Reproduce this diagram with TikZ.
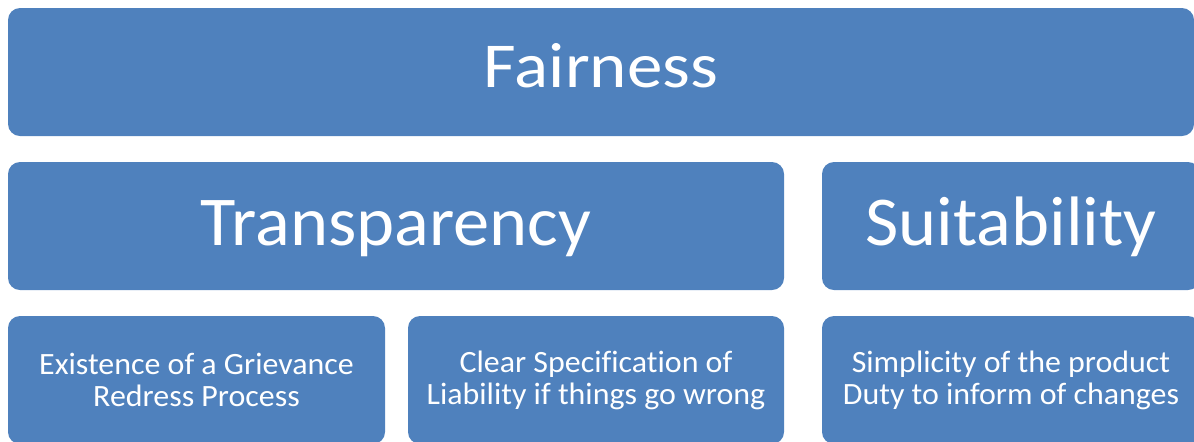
\documentclass[tikz,border=0pt]{standalone}
\usepackage{fontspec}
\setmainfont{Carlito}[Ligatures=NoCommon]
\newfontfamily\fairfont{Carlito}[FakeStretch=1.11]
\newfontfamily\headfont{Carlito}[FakeStretch=1.035]
\newfontfamily\itemfont{Carlito}[FakeStretch=1.03, Ligatures=NoCommon]
\usepackage{tikz}
\usetikzlibrary{positioning}
\definecolor{boxblue}{HTML}{4F81BD}

\begin{document}
\begin{tikzpicture}[x=0.5pt, y=-0.5pt, inner sep=0pt,
	box/.style={rectangle, rounded corners=6pt, fill=boxblue, draw=none, text=white, align=center, minimum height=64pt}]

	\useasboundingbox (0,0) rectangle (1194,441);

	% oberste Zeile
	\node[box, minimum width=593pt, text height=15pt, text depth=0pt, font=\fairfont\fontsize{32}{36}\selectfont](fairness) at (601,72) {Fairness};

	% mittlere Zeile
	\node[box, minimum width=388pt, text height=19pt, text depth=0pt, font=\headfont\fontsize{35}{40}\selectfont](transp) at (396,226) {Transparency};
	\node[box, minimum width=189pt, text height=19pt, text depth=0pt, font=\headfont\fontsize{35}{40}\selectfont](suit) at (1011,226) {Suitability};

	% unterste Zeile
	\node[box, minimum width=188.5pt, font=\itemfont\fontsize{15.5}{16}\selectfont](grievance) at (196.5,380) {Existence of a Grievance\\Redress Process};
	\node[box, minimum width=188pt, font=\itemfont\fontsize{15.5}{16}\selectfont](liability) at (596,380) {Clear Specification of\\Liability if things go wrong};
	\node[box, minimum width=189pt, font=\itemfont\fontsize{15.5}{16}\selectfont](simplicity) at (1011,380) {Simplicity of the product\\Duty to inform of changes};
\end{tikzpicture}
\end{document}
